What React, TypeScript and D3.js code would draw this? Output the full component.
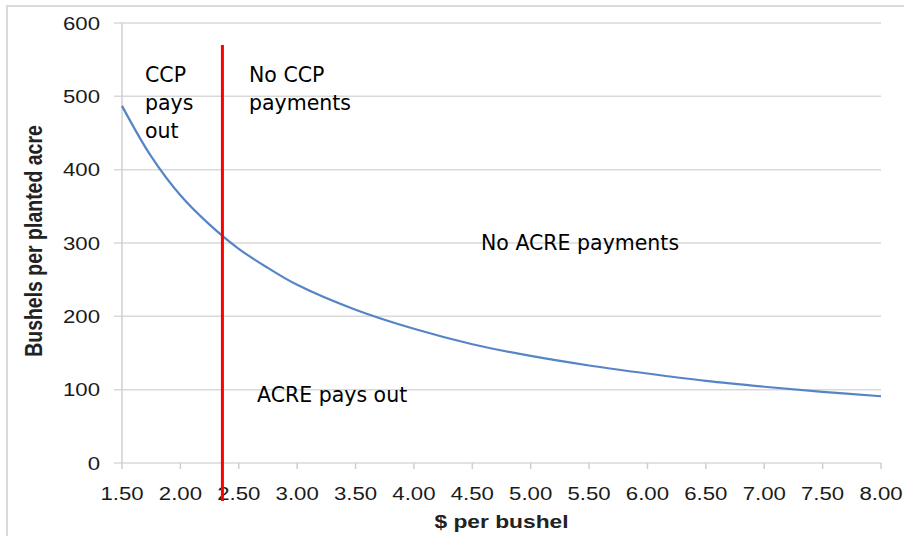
import React from "react";
import * as d3 from "d3";

// price ($ per bushel) and break-even yield
const prices = [1.5, 1.75, 2.0, 2.25, 2.5, 2.75, 3.0, 3.5, 4.0, 4.5, 5.0, 5.5, 6.0, 6.5, 7.0, 7.5, 8.0];
const yields = [487, 418, 365, 325, 292, 266, 243, 209, 183, 162, 146, 133, 122, 112, 104, 97, 91];
const xTicks = [1.5, 2.0, 2.5, 3.0, 3.5, 4.0, 4.5, 5.0, 5.5, 6.0, 6.5, 7.0, 7.5, 8.0];
const yTicks = [0, 100, 200, 300, 400, 500, 600];
const ccpPrice = 2.36;

const W = 904;
const H = 536;
const margin = { top: 23, right: 23, bottom: 73, left: 122 };
const SX = 1.2; // source image is stretched horizontally

const App: React.FC = () => {
  const x = d3
    .scaleLinear()
    .domain([1.5, 8])
    .range([margin.left, W - margin.right]);
  const y = d3
    .scaleLinear()
    .domain([0, 600])
    .range([H - margin.bottom, margin.top]);

  const line = d3
    .line<number>()
    .x((_, i) => x(prices[i]))
    .y((d) => y(d))
    .curve(d3.curveCatmullRom.alpha(0.5));

  const note = { fontFamily: "DejaVu Sans", fontSize: 20.5, fill: "#000" };
  const tick = { fontFamily: "Liberation Sans, Arial", fontSize: 18.5, fill: "#1a1a1a" };

  return (
    <svg
      width={W}
      height={H}
      style={{ position: "absolute", left: 0, top: 0, background: "#fff" }}
    >
      {/* outer frame */}
      <rect x={7} y={6} width={W} height={H} fill="none" stroke="#d9d9d9" strokeWidth={2} />

      {/* gridlines */}
      {yTicks.map((t) => (
        <line
          key={t}
          x1={margin.left - 8}
          x2={W - margin.right}
          y1={y(t)}
          y2={y(t)}
          stroke="#d9d9d9"
          strokeWidth={1.5}
        />
      ))}
      <line
        x1={margin.left}
        x2={margin.left}
        y1={y(600)}
        y2={y(0)}
        stroke="#cfcfcf"
        strokeWidth={1.5}
      />
      {xTicks.map((t) => (
        <line key={t} x1={x(t)} x2={x(t)} y1={y(0)} y2={y(0) + 6} stroke="#cfcfcf" strokeWidth={1.5} />
      ))}

      {/* y tick labels */}
      {yTicks.map((t) => (
        <g key={t} transform={`translate(${margin.left - 22},${y(t) + 6.5}) scale(${SX},1)`}>
          <text textAnchor="end" {...tick}>
            {t}
          </text>
        </g>
      ))}

      {/* x tick labels */}
      {xTicks.map((t) => (
        <g key={t} transform={`translate(${x(t)},${y(0) + 37}) scale(${SX},1)`}>
          <text textAnchor="middle" {...tick}>
            {t.toFixed(2)}
          </text>
        </g>
      ))}

      {/* axis titles */}
      <g transform={`translate(${(margin.left + W - margin.right) / 2},${H - 8}) scale(${SX},1)`}>
        <text textAnchor="middle" fontFamily="Liberation Sans, Arial" fontWeight="bold" fontSize={19} fill="#222">
          $ per bushel
        </text>
      </g>
      <g transform={`translate(42,${(y(0) + y(600)) / 2 - 2}) scale(${SX},1) rotate(-90)`}>
        <text textAnchor="middle" fontFamily="Liberation Sans, Arial" fontWeight="bold" fontSize={19.5} fill="#222">
          Bushels per planted acre
        </text>
      </g>

      {/* break-even curve */}
      <path d={line(yields) ?? ""} fill="none" stroke="#5585c5" strokeWidth={2.2} />

      {/* CCP trigger price */}
      <line x1={x(ccpPrice)} x2={x(ccpPrice)} y1={45} y2={501} stroke="#ff0000" strokeWidth={3} />

      {/* annotations */}
      <text x={145} y={82} {...note}>CCP</text>
      <text x={145} y={110} {...note}>pays</text>
      <text x={145} y={138} {...note}>out</text>
      <text x={249} y={82} {...note}>No CCP</text>
      <text x={249} y={110} {...note}>payments</text>
      <text x={481} y={250} {...note}>No ACRE payments</text>
      <text x={257} y={402} {...note}>ACRE pays out</text>
    </svg>
  );
};

export default App;
